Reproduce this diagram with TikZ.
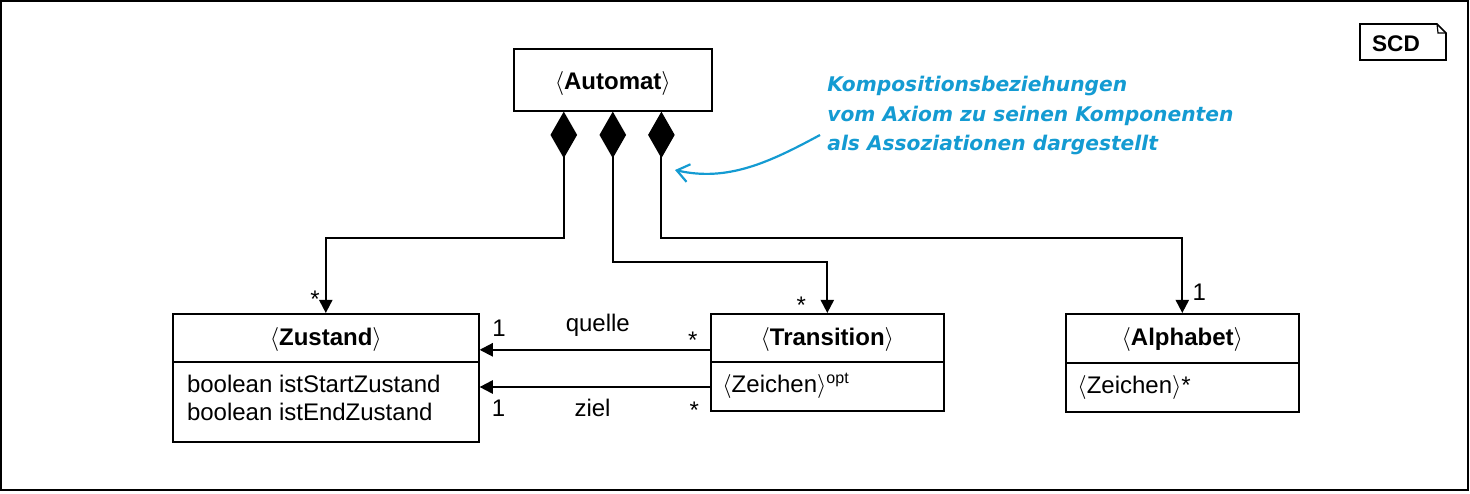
\documentclass[tikz,border=0pt]{standalone}
\usepackage{fontspec}
\setmainfont{Liberation Sans}
\newfontfamily\notefont{DejaVu Sans}
\usetikzlibrary{arrows.meta,positioning}
\definecolor{notecolor}{RGB}{20,155,210}

\begin{document}
\begin{tikzpicture}[
        x=0.5pt, y=-0.5pt,
        font=\fontsize{12}{14}\selectfont,
        % 类框
        classbox/.style={
            rectangle,
            draw,
            line width=0.8pt,
            anchor=north west,
            inner sep=0pt
        },
        % 类名与属性
        classname/.style={anchor=base, inner sep=0pt},
        attr/.style={anchor=base west, inner sep=0pt},
        divider/.style={line width=0.8pt},
        % 组合关系 (菱形 -> 实心箭头)
        composition/.style={
            arrows={Diamond[length=23.3pt,width=13.3pt]}-{Triangle[length=6.6pt,width=6.6pt]},
            line width=1pt
        },
        % 关联
        assoc/.style={
            arrows=-{Triangle[length=6.6pt,width=6.6pt]},
            line width=1pt
        },
        mult/.style={anchor=base, inner sep=0pt},
        % 注释
        note_text/.style={
            color=notecolor,
            font=\notefont\bfseries\itshape\fontsize{10.1}{14.75}\selectfont,
            align=left,
            anchor=base west,
            inner sep=0pt
        },
        note_arrow/.style={
            arrows=-{Straight Barb[length=6pt,width=9pt]},
            color=notecolor,
            line width=1.1pt
        }
    ]

    \useasboundingbox (0,0) rectangle (1470,493);
    \draw[line width=0.7pt] (1,1) rectangle (1468,490);

    % --- 1. 类 ---

    % Automat (oben)
    \node (automat) [classbox, minimum width=99pt, minimum height=31pt] at (513,48) {};
    \node (automat-name) [classname] at ([yshift=-20.8pt]automat.north) {$\langle$\textbf{Automat}$\rangle$};

    % Zustand
    \node (zustand) [classbox, minimum width=153pt, minimum height=64pt] at (172,313) {};
    \node (zustand-name) [classname] at ([yshift=-16pt]zustand.north) {$\langle$\textbf{Zustand}$\rangle$};
    \draw[divider] ([yshift=-24.4pt]zustand.north west) -- ([yshift=-24.4pt]zustand.north east);
    \node (zustand-start) [attr] at ([xshift=7.3pt,yshift=-39.7pt]zustand.north west) {boolean istStartZustand};
    \node (zustand-end) [attr] at ([yshift=-14.2pt]zustand-start.base west) {boolean istEndZustand};

    % Transition
    \node (transition) [classbox, minimum width=116.5pt, minimum height=48.5pt] at (710,313) {};
    \node (transition-name) [classname] at ([yshift=-16.3pt]transition.north) {$\langle$\textbf{Transition}$\rangle$};
    \draw[divider] ([yshift=-24.5pt]transition.north west) -- ([yshift=-24.5pt]transition.north east);
    \node (transition-attr) [attr] at ([xshift=6pt,yshift=-39.7pt]transition.north west) {$\langle$Zeichen$\rangle$\textsuperscript{opt}};

    % Alphabet
    \node (alphabet) [classbox, minimum width=116.5pt, minimum height=49pt] at (1065,313) {};
    \node (alphabet-name) [classname] at ([yshift=-16pt]alphabet.north) {$\langle$\textbf{Alphabet}$\rangle$};
    \draw[divider] ([yshift=-25pt]alphabet.north west) -- ([yshift=-25pt]alphabet.north east);
    \node (alphabet-attr) [attr] at ([xshift=6pt,yshift=-40pt]alphabet.north west) {$\langle$Zeichen$\rangle$*};

    % --- 2. Kompositionen vom Automat ---

    \draw[composition] ([xshift=-24.5pt]automat.south) -- ++(0,-63pt) -| (zustand.north);
    \draw[composition] (automat.south) -- ++(0,-75pt) -| (transition.north);
    \draw[composition] ([xshift=24.3pt]automat.south) -- ++(0,-63pt) -| (alphabet.north);

    \node (zustand-mult) [mult] at ([xshift=-5.4pt,yshift=3pt]zustand.north) {*};
    \node (transition-mult) [mult] at ([xshift=-13pt]transition.north) {*};
    \node (alphabet-mult) [mult] at ([xshift=8.5pt,yshift=6.5pt]alphabet.north) {1};

    % --- 3. Assoziationen Transition -> Zustand ---

    \draw[assoc] ([yshift=-18.4pt]transition.north west) -- ([yshift=-18.4pt]zustand.north east)
        node[mult, pos=0.075, yshift=0.5pt] {*}
        node[mult, pos=0.487, yshift=9.2pt] {quelle}
        node[mult, pos=0.916, yshift=6.5pt] {1};

    \draw[assoc] ([yshift=-37pt]transition.north west) -- ([yshift=-37pt]zustand.north east)
        node[mult, pos=0.068, yshift=-15.6pt] {*}
        node[mult, pos=0.51, yshift=-14.7pt] {ziel}
        node[mult, pos=0.918, yshift=-14.7pt] {1};

    % --- 4. Notiz ---

    \node (note) [note_text] at (827,150.7) {Kompositionsbeziehungen\\vom Axiom zu seinen Komponenten\\als Assoziationen dargestellt};
    \coordinate (note-tip) at (675,170);
    \draw[note_arrow] (820,135) .. controls (770,162) and (728,182) .. (note-tip);

    % SCD
    \node (scd) [anchor=base, inner sep=0pt, font=\bfseries\fontsize{11.3}{13}\selectfont] at (1396,51.7) {SCD};
    \draw[line width=0.8pt] (1360,24) -- (1437,24) -- (1446,33) -- (1446,60) -- (1360,60) -- cycle;
    \draw[line width=0.6pt] (1437,24) -- (1438,33) -- (1446,33);

\end{tikzpicture}
\end{document}
